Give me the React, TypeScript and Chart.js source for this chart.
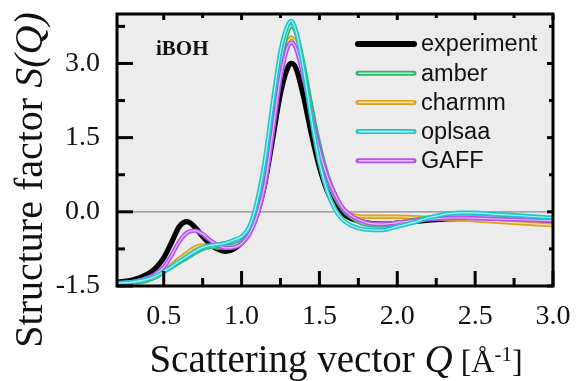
import { useEffect, useRef } from "react";
import { Chart, registerables } from "chart.js";

Chart.register(...registerables);

// Scattering vector grid (Å^-1)
const qValues = [
  0.2, 0.3, 0.4, 0.45, 0.5, 0.55, 0.6, 0.65, 0.7, 0.75, 0.8, 0.85, 0.9, 0.95,
  1.0, 1.05, 1.1, 1.15, 1.2, 1.25, 1.3, 1.32, 1.35, 1.4, 1.45, 1.5, 1.55, 1.6,
  1.65, 1.7, 1.8, 1.9, 2.0, 2.1, 2.2, 2.3, 2.4, 2.5, 2.6, 2.7, 2.8, 2.9, 3.0,
];

const experiment = [
  -1.42, -1.38, -1.25, -1.13, -0.93, -0.62, -0.3, -0.2, -0.31, -0.5, -0.66, -0.76, -0.8, -0.75,
  -0.62, -0.38, -0.03, 0.58, 1.48, 2.4, 2.94, 3.0, 2.9, 2.3, 1.55, 0.9, 0.42, 0.12,
  -0.04, -0.13, -0.22, -0.25, -0.23, -0.2, -0.17, -0.15, -0.14, -0.14, -0.15, -0.16, -0.18, -0.19, -0.2,
];

const amber = [
  -1.45, -1.43, -1.38, -1.32, -1.22, -1.12, -1.02, -0.93, -0.83, -0.75, -0.71, -0.7, -0.7, -0.67,
  -0.6, -0.42, -0.02, 0.7, 1.85, 3.0, 3.68, 3.76, 3.62, 2.95, 2.1, 1.35, 0.75, 0.33,
  0.05, -0.1, -0.26, -0.28, -0.23, -0.17, -0.12, -0.09, -0.08, -0.09, -0.1, -0.12, -0.13, -0.14, -0.15,
];

const charmm = [
  -1.47, -1.45, -1.38, -1.3, -1.2, -1.08, -0.95, -0.83, -0.72, -0.68, -0.7, -0.72, -0.72, -0.68,
  -0.6, -0.42, -0.03, 0.62, 1.7, 2.8, 3.45, 3.52, 3.4, 2.8, 2.02, 1.3, 0.74, 0.34,
  0.07, -0.05, -0.1, -0.1, -0.1, -0.11, -0.12, -0.14, -0.15, -0.17, -0.19, -0.21, -0.23, -0.25, -0.27,
];

const oplsaa = [
  -1.44, -1.42, -1.36, -1.3, -1.21, -1.11, -1.0, -0.9, -0.8, -0.72, -0.68, -0.66, -0.63, -0.57,
  -0.5, -0.3, 0.22, 1.05, 2.2, 3.25, 3.8, 3.86, 3.65, 2.85, 1.85, 1.0, 0.42, 0.05,
  -0.16, -0.27, -0.36, -0.37, -0.3, -0.22, -0.12, -0.05, -0.02, -0.02, -0.04, -0.06, -0.08, -0.1, -0.12,
];

const gaff = [
  -1.45, -1.42, -1.33, -1.25, -1.12, -0.88, -0.6, -0.42, -0.38, -0.45, -0.58, -0.68, -0.73, -0.72,
  -0.64, -0.45, -0.08, 0.55, 1.6, 2.72, 3.36, 3.42, 3.3, 2.7, 1.95, 1.25, 0.72, 0.35,
  0.08, -0.07, -0.22, -0.25, -0.22, -0.18, -0.15, -0.13, -0.12, -0.13, -0.14, -0.15, -0.16, -0.17, -0.18,
];

const seriesNames = ["experiment", "amber", "charmm", "oplsaa", "GAFF"];
const seriesColors = ["#000000", "#2fb66c", "#dea21a", "#1fc6cb", "#b452f2"];
const seriesTints = ["#000000", "#b9ecd0", "#f6dca0", "#aef0f2", "#e6bcff"];

const xTickValues = [0.5, 1.0, 1.5, 2.0, 2.5, 3.0];
const xMinorValues = [0.75, 1.25, 1.75, 2.25, 2.75];
const yTickValues = [-1.5, 0.0, 1.5, 3.0];
const yMinorValues = [-0.75, 0.75, 2.25, 3.75];

const sampleLabel = "iBOH";

const SERIF = "'Liberation Serif', 'Times New Roman', serif";
const SANS = "'Liberation Sans', Arial, sans-serif";

function toPoints(values: number[]) {
  return qValues.map((q, i) => ({ x: q, y: values[i] }));
}

// Text runs with their own font and vertical shift
type Run = { text: string; font: string; dy?: number };

function drawRuns(ctx: CanvasRenderingContext2D, runs: Run[], cx: number, baseY: number) {
  let total = 0;
  for (const r of runs) {
    ctx.font = r.font;
    total += ctx.measureText(r.text).width;
  }
  let x = cx - total / 2;
  ctx.textAlign = "left";
  ctx.textBaseline = "alphabetic";
  for (const r of runs) {
    ctx.font = r.font;
    ctx.fillText(r.text, x, baseY + (r.dy || 0));
    x += ctx.measureText(r.text).width;
  }
}

function noScalePadding(scale: any) {
  scale.paddingTop = 0;
  scale.paddingBottom = 0;
  scale.paddingLeft = 0;
  scale.paddingRight = 0;
}

const decorPlugin = {
  id: "decor",
  beforeDraw(chart: any) {
    const { ctx, chartArea: a } = chart;
    ctx.save();
    ctx.fillStyle = "#ffffff";
    ctx.fillRect(0, 0, chart.width, chart.height);
    ctx.fillStyle = "#ececec";
    ctx.fillRect(a.left, a.top, a.right - a.left, a.bottom - a.top);
    ctx.restore();
  },
  beforeDatasetsDraw(chart: any) {
    const { ctx, chartArea: a, scales } = chart;
    const y0 = scales.y.getPixelForValue(0);
    ctx.save();
    ctx.strokeStyle = "#8a8a8a";
    ctx.lineWidth = 1.2;
    ctx.beginPath();
    ctx.moveTo(a.left, y0);
    ctx.lineTo(a.right, y0);
    ctx.stroke();
    ctx.restore();
  },
  afterDatasetsDraw(chart: any) {
    const { ctx, chartArea: a, scales } = chart;
    const xs = scales.x;
    const ys = scales.y;
    ctx.save();
    ctx.strokeStyle = "#000";
    ctx.lineWidth = 3;
    ctx.lineCap = "butt";

    // inward tick marks on all four sides
    const tick = (x1: number, y1: number, x2: number, y2: number) => {
      ctx.beginPath();
      ctx.moveTo(x1, y1);
      ctx.lineTo(x2, y2);
      ctx.stroke();
    };
    for (const v of xTickValues) {
      const px = xs.getPixelForValue(v);
      tick(px, a.bottom, px, a.bottom - 15);
      tick(px, a.top, px, a.top + 6);
    }
    for (const v of xMinorValues) {
      const px = xs.getPixelForValue(v);
      tick(px, a.bottom, px, a.bottom - 8);
      tick(px, a.top, px, a.top + 4);
    }
    for (const v of yTickValues) {
      const py = ys.getPixelForValue(v);
      tick(a.left, py, a.left + 16, py);
      tick(a.right, py, a.right - 6, py);
    }
    for (const v of yMinorValues) {
      const py = ys.getPixelForValue(v);
      tick(a.left, py, a.left + 8, py);
      tick(a.right, py, a.right - 4, py);
    }

    // frame
    ctx.strokeRect(a.left, a.top, a.right - a.left, a.bottom - a.top);

    // sample label
    ctx.fillStyle = "#111";
    ctx.font = `bold 21px ${SERIF}`;
    ctx.textAlign = "left";
    ctx.textBaseline = "alphabetic";
    ctx.fillText(sampleLabel, 156, 55);

    // legend
    const lx1 = 358;
    const lx2 = 414;
    seriesNames.forEach((name, i) => {
      const ly = 44 + i * 29.2;
      ctx.lineCap = "round";
      if (i === 0) {
        ctx.strokeStyle = seriesColors[0];
        ctx.lineWidth = 6;
        tick(lx1, ly, lx2, ly);
      } else {
        ctx.strokeStyle = seriesColors[i];
        ctx.lineWidth = 5;
        tick(lx1, ly, lx2, ly);
        ctx.strokeStyle = seriesTints[i];
        ctx.lineWidth = 1.6;
        tick(lx1 + 1, ly, lx2 - 1, ly);
      }
      ctx.fillStyle = "#111";
      ctx.font = `23.5px ${SANS}`;
      ctx.textAlign = "left";
      ctx.textBaseline = "middle";
      ctx.fillText(name, 421, ly + 1);
    });

    // axis titles
    ctx.fillStyle = "#111";
    drawRuns(
      ctx,
      [
        { text: "Scattering vector ", font: `39px ${SERIF}` },
        { text: "Q", font: `italic 39px ${SERIF}` },
        { text: " [Å", font: `32px ${SERIF}` },
        { text: "-1", font: `21px ${SERIF}`, dy: -11 },
        { text: "]", font: `32px ${SERIF}` },
      ],
      336,
      372
    );
    ctx.translate(42, 180);
    ctx.rotate(-Math.PI / 2);
    drawRuns(
      ctx,
      [
        { text: "Structure factor ", font: `40px ${SERIF}` },
        { text: "S(Q)", font: `italic 40px ${SERIF}` },
      ],
      0,
      0
    );
    ctx.restore();
  },
};

export default function App() {
  const canvasRef = useRef<HTMLCanvasElement | null>(null);

  useEffect(() => {
    document.body.style.margin = "0";
    const canvas = canvasRef.current;
    if (!canvas) return;

    const models = [
      { values: amber, idx: 1, order: 15 },
      { values: charmm, idx: 2, order: 17 },
      { values: oplsaa, idx: 3, order: 11 },
      { values: gaff, idx: 4, order: 13 },
    ];

    const datasets: any[] = [
      {
        label: seriesNames[0],
        data: toPoints(experiment),
        borderColor: seriesColors[0],
        borderWidth: 5.2,
        order: 20,
      },
    ];
    for (const m of models) {
      datasets.push({
        label: seriesNames[m.idx],
        data: toPoints(m.values),
        borderColor: seriesColors[m.idx],
        borderWidth: 4.4,
        order: m.order,
      });
      datasets.push({
        label: seriesNames[m.idx] + " core",
        data: toPoints(m.values),
        borderColor: seriesTints[m.idx],
        borderWidth: 1.2,
        order: m.order - 1,
      });
    }
    for (const d of datasets) {
      d.pointRadius = 0;
      d.fill = false;
      d.cubicInterpolationMode = "monotone";
    }

    const chart = new Chart(canvas, {
      type: "line",
      data: { datasets },
      options: {
        animation: false,
        responsive: false,
        maintainAspectRatio: false,
        layout: { padding: { top: 14, right: 23, left: 0, bottom: 0 } },
        plugins: {
          legend: { display: false },
          tooltip: { enabled: false },
          title: { display: false },
        },
        scales: {
          x: {
            type: "linear",
            min: 0.2,
            max: 3.0,
            grid: { display: false, drawTicks: false },
            border: { display: false },
            afterBuildTicks(scale: any) {
              scale.ticks = xTickValues.map((v) => ({ value: v }));
            },
            afterFit(scale: any) {
              scale.height = 95;
              noScalePadding(scale);
            },
            ticks: {
              padding: 14,
              color: "#111",
              font: { family: SERIF, size: 28 },
              maxRotation: 0,
              autoSkip: false,
              callback: (v: any) => Number(v).toFixed(1),
            },
          },
          y: {
            type: "linear",
            min: -1.5,
            max: 4.0,
            grid: { display: false, drawTicks: false },
            border: { display: false },
            afterBuildTicks(scale: any) {
              scale.ticks = yTickValues.map((v) => ({ value: v }));
            },
            afterFit(scale: any) {
              scale.width = 117;
              noScalePadding(scale);
            },
            ticks: {
              padding: 17,
              color: "#111",
              font: { family: SERIF, size: 28 },
              autoSkip: false,
              callback: (v: any) => Number(v).toFixed(1),
            },
          },
        },
      },
      plugins: [decorPlugin],
    });

    return () => chart.destroy();
  }, []);

  return (
    <div style={{ width: 576, height: 381, position: "relative" }}>
      <canvas ref={canvasRef} width={576} height={381} style={{ display: "block" }} />
    </div>
  );
}
